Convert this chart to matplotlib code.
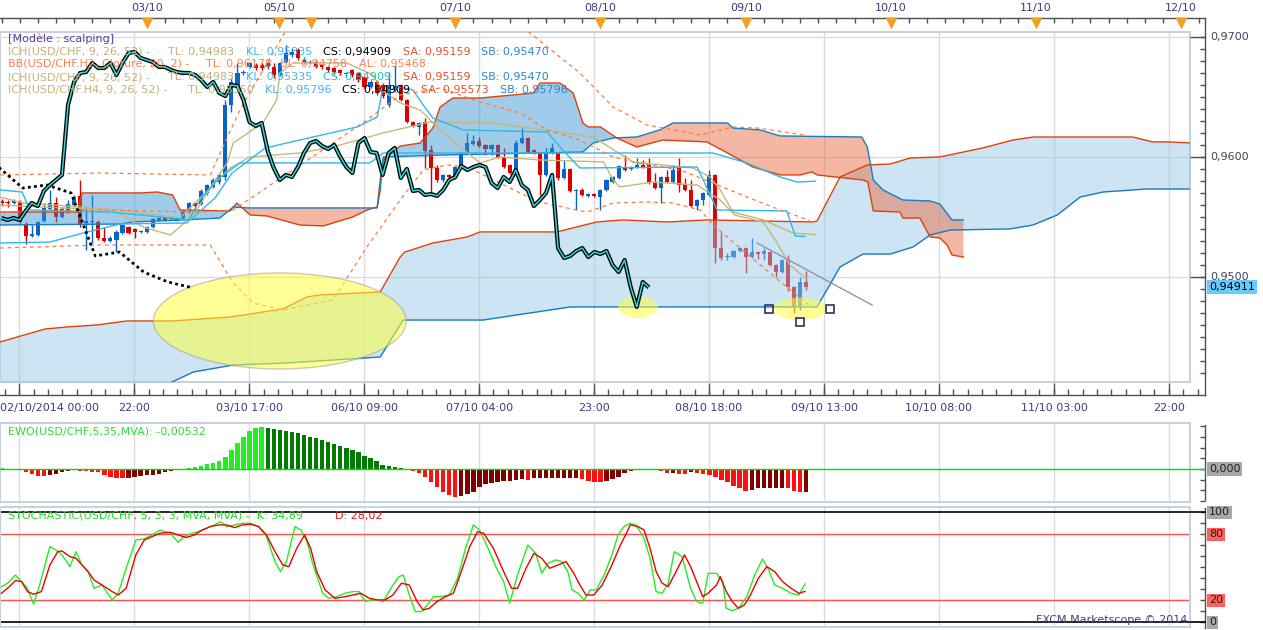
import numpy as np
import matplotlib
matplotlib.use("Agg")
import matplotlib.pyplot as plt
from matplotlib.patches import Ellipse
from matplotlib.transforms import blended_transform_factory as blend

# ---------------- H1 candles USD/CHF ----------------
opens = [0.95631, 0.95623, 0.95614, 0.95623, 0.95431, 0.95339, 0.95348, 0.95464, 0.95564, 0.95614,
         0.95498, 0.95539, 0.95598, 0.95673, 0.95448, 0.95456, 0.95456, 0.95323, 0.95298, 0.95306,
         0.95364, 0.95414, 0.95398, 0.95373, 0.95373, 0.95414, 0.95473, 0.95489, 0.95481, 0.95489,
         0.95489, 0.95539, 0.95614, 0.95606, 0.95698, 0.95748, 0.95789, 0.95831, 0.96431, 0.96581,
         0.96698, 0.96748, 0.96764, 0.96764, 0.96748, 0.96748, 0.96681, 0.96789, 0.96848, 0.96889,
         0.96789, 0.96781, 0.96789, 0.96764, 0.96748, 0.96739, 0.96723, 0.96689, 0.96723, 0.96698,
         0.96664, 0.96581, 0.96623, 0.96598, 0.96431, 0.96556, 0.96598, 0.96473, 0.96289, 0.96248,
         0.96289, 0.96056, 0.95906, 0.95806, 0.95848, 0.95823, 0.95914, 0.96031, 0.96106, 0.96131,
         0.96098, 0.96064, 0.96098, 0.95998, 0.95931, 0.95864, 0.96114, 0.96156, 0.96056, 0.96031,
         0.95848, 0.96031, 0.96031, 0.95823, 0.95898, 0.95714, 0.95723, 0.95673, 0.95689, 0.95664,
         0.95723, 0.95789, 0.95823, 0.95914, 0.95898, 0.95914, 0.95931, 0.95931, 0.95781, 0.95739,
         0.95831, 0.95789, 0.95906, 0.95773, 0.95723, 0.95589, 0.95639, 0.95681, 0.95848, 0.95239,
         0.95164, 0.95164, 0.95214, 0.95239, 0.95164, 0.95206, 0.95189, 0.95206, 0.95098, 0.95039,
         0.95139, 0.94914, 0.94748, 0.94956]
closes = [0.95614, 0.95614, 0.95631, 0.95456, 0.95339, 0.95356, 0.95456, 0.95573, 0.95614, 0.95498,
          0.95564, 0.95606, 0.95664, 0.95431, 0.95464, 0.95464, 0.95323, 0.95298, 0.95323, 0.95373,
          0.95431, 0.95364, 0.95373, 0.95381, 0.95414, 0.95481, 0.95489, 0.95473, 0.95489, 0.95473,
          0.95548, 0.95614, 0.95589, 0.95714, 0.95764, 0.95806, 0.95848, 0.96431, 0.96623, 0.96698,
          0.96706, 0.96781, 0.96739, 0.96739, 0.96781, 0.96681, 0.96781, 0.96864, 0.96873, 0.96823,
          0.96806, 0.96789, 0.96748, 0.96748, 0.96723, 0.96706, 0.96698, 0.96698, 0.96681, 0.96639,
          0.96581, 0.96623, 0.96531, 0.96506, 0.96598, 0.96589, 0.96473, 0.96289, 0.96256, 0.96281,
          0.96048, 0.95906, 0.95806, 0.95848, 0.95831, 0.95914, 0.96031, 0.96114, 0.96131, 0.96089,
          0.96064, 0.96098, 0.95998, 0.95914, 0.95864, 0.96114, 0.96156, 0.96039, 0.96031, 0.95848,
          0.96031, 0.96073, 0.95823, 0.95898, 0.95714, 0.95723, 0.95681, 0.95689, 0.95673, 0.95723,
          0.95806, 0.95831, 0.95923, 0.95889, 0.95914, 0.95931, 0.95914, 0.95781, 0.95739, 0.95831,
          0.95789, 0.95889, 0.95764, 0.95723, 0.95589, 0.95639, 0.95698, 0.95848, 0.95239, 0.95156,
          0.95173, 0.95214, 0.95239, 0.95164, 0.95206, 0.95189, 0.95214, 0.95098, 0.95039, 0.95139,
          0.94914, 0.94748, 0.94956, 0.94911]
highs = [0.95648, 0.95639, 0.95648, 0.95639, 0.95456, 0.95431, 0.95464, 0.95614, 0.95723, 0.95664,
         0.95581, 0.95639, 0.95681, 0.95806, 0.95573, 0.95681, 0.95473, 0.95414, 0.95339, 0.95389,
         0.95439, 0.95423, 0.95406, 0.95389, 0.95423, 0.95489, 0.95498, 0.95498, 0.95498, 0.95498,
         0.95556, 0.95623, 0.95623, 0.95731, 0.95773, 0.95823, 0.95864, 0.96473, 0.96656, 0.96781,
         0.96723, 0.96789, 0.96781, 0.96781, 0.96789, 0.96781, 0.96789, 0.96931, 0.96906, 0.96906,
         0.96831, 0.96806, 0.96806, 0.96773, 0.96756, 0.96748, 0.96731, 0.96706, 0.96731, 0.96706,
         0.96673, 0.96639, 0.96639, 0.96614, 0.96706, 0.96764, 0.96606, 0.96481, 0.96298, 0.96289,
         0.96323, 0.96098, 0.95931, 0.95856, 0.95856, 0.95923, 0.96039, 0.96198, 0.96181, 0.96164,
         0.96106, 0.96106, 0.96106, 0.96073, 0.95939, 0.96139, 0.96239, 0.96164, 0.96064, 0.96039,
         0.96073, 0.96114, 0.96039, 0.95973, 0.95906, 0.95731, 0.95739, 0.95698, 0.95698, 0.95731,
         0.95814, 0.95839, 0.95931, 0.96014, 0.95923, 0.95989, 0.95973, 0.95989, 0.95864, 0.95839,
         0.95889, 0.95931, 0.95989, 0.95823, 0.95806, 0.95648, 0.95706, 0.95889, 0.95856, 0.95373,
         0.95198, 0.95223, 0.95248, 0.95248, 0.95323, 0.95214, 0.95239, 0.95214, 0.95106, 0.95148,
         0.95181, 0.94923, 0.94998, 0.95048]
lows = [0.95589, 0.95581, 0.95606, 0.95448, 0.95273, 0.95331, 0.95339, 0.95456, 0.95556, 0.95456,
        0.95489, 0.95531, 0.95581, 0.95414, 0.95223, 0.95281, 0.95306, 0.95289, 0.95289, 0.95206,
        0.95356, 0.95356, 0.95323, 0.95364, 0.95364, 0.95406, 0.95464, 0.95464, 0.95473, 0.95464,
        0.95481, 0.95531, 0.95556, 0.95598, 0.95681, 0.95739, 0.95773, 0.95806, 0.96373, 0.96573,
        0.96681, 0.96739, 0.96723, 0.96723, 0.96731, 0.96656, 0.96673, 0.96781, 0.96831, 0.96806,
        0.96773, 0.96773, 0.96739, 0.96731, 0.96706, 0.96689, 0.96681, 0.96673, 0.96664, 0.96623,
        0.96573, 0.96573, 0.96514, 0.96489, 0.96414, 0.96539, 0.96464, 0.96281, 0.96248, 0.96181,
        0.95906, 0.95698, 0.95789, 0.95789, 0.95823, 0.95814, 0.95906, 0.96023, 0.96098, 0.96081,
        0.96014, 0.96014, 0.95989, 0.95906, 0.95856, 0.95856, 0.96106, 0.96031, 0.96023, 0.95681,
        0.95839, 0.96023, 0.95806, 0.95814, 0.95706, 0.95556, 0.95673, 0.95664, 0.95664, 0.95556,
        0.95714, 0.95781, 0.95814, 0.95881, 0.95889, 0.95906, 0.95906, 0.95773, 0.95731, 0.95614,
        0.95781, 0.95781, 0.95706, 0.95714, 0.95581, 0.95556, 0.95598, 0.95673, 0.95114, 0.95139,
        0.95139, 0.95156, 0.95206, 0.95031, 0.95156, 0.95148, 0.95139, 0.95089, 0.94998, 0.95031,
        0.94881, 0.94698, 0.94723, 0.94889]

# ---------------- Ichimoku H1 cloud (senkou A / B) ----------------
h1_sa_bar = [-0.25, 12.6, 13.3, 22.9, 25.7, 28.3, 29.5, 37.8, 38.9, 41.1, 43.9, 49.3, 53.2, 58.1, 60.4,
             62.1, 62.6, 63.1, 64.7, 65.9, 69.2, 71.3, 72.5, 74.6, 79.1, 84.5, 87.9, 89.0, 92.3, 94.5,
             96.1, 97.0, 99.0, 101.7, 105.0, 109.3, 116.6, 120.0, 124.2, 128.7, 132.0, 134.0, 134.8,
             142.4, 143.2, 144.1, 148.5, 149.0, 151.8, 153.5, 155.1, 156.3, 157.1, 159.0]
h1_sa = [0.95539, 0.95539, 0.95698, 0.95698, 0.95706, 0.95681, 0.95556, 0.95548, 0.95614, 0.95514,
         0.95506, 0.95431, 0.95423, 0.95498, 0.95556, 0.95581, 0.95806, 0.95973, 0.96039, 0.96089,
         0.96114, 0.96239, 0.96414, 0.96489, 0.96489, 0.96514, 0.96531, 0.96614, 0.96614, 0.96531,
         0.96281, 0.96248, 0.96248, 0.96156, 0.96081, 0.96139, 0.96123, 0.96031, 0.95914, 0.95848,
         0.95848, 0.95873, 0.95848, 0.95806, 0.95789, 0.95548, 0.95539, 0.95489, 0.95489, 0.95331,
         0.95323, 0.95264, 0.95181, 0.95164]
h1_sb_bar = [-0.25, 19.6, 21.7, 30.0, 36.1, 38.3, 40.6, 62.1, 62.6, 63.1, 73.0, 96.1, 97.8, 101.1,
             105.0, 108.8, 111.0, 120.0, 120.9, 125.4, 128.7, 142.2, 143.1, 143.6, 144.1, 145.7, 149.0,
             153.5, 155.1, 157.1, 159.0]
h1_sb = [0.95431, 0.95439, 0.95456, 0.95473, 0.95489, 0.95581, 0.95573, 0.95573, 0.95723, 0.95998,
         0.96014, 0.96039, 0.96114, 0.96156, 0.96164, 0.96223, 0.96281, 0.96281, 0.96239, 0.96223,
         0.96173, 0.96164, 0.96081, 0.95948, 0.95806, 0.95723, 0.95639, 0.95631, 0.95606, 0.95473,
         0.95473]

# ---------------- Ichimoku H4 cloud ----------------
h4_up_bar = [-0.25, 7.2, 10.8, 15.8, 20.7, 28.3, 37.8, 46.5, 50.5, 52.6, 62.6, 65.9, 66.7, 71.3, 77.0,
             79.1, 91.8, 98.4, 102.7, 110.0, 116.6, 134.1, 134.8, 138.6, 143.1, 146.9, 150.2, 155.1,
             162.2, 167.2, 170.5, 187.0, 190.3, 193.1, 196.5]
h4_up = [0.94456, 0.94564, 0.94581, 0.94598, 0.94631, 0.94631, 0.94664, 0.94731, 0.94831, 0.94848,
         0.94873, 0.95164, 0.95206, 0.95281, 0.95331, 0.95373, 0.95373, 0.95456, 0.95473, 0.95456,
         0.95473, 0.95456, 0.95464, 0.95831, 0.95931, 0.95939, 0.95989, 0.95998, 0.96073, 0.96139,
         0.96164, 0.96164, 0.96123, 0.96123, 0.96114]
h4_lo_bar = [-0.25, 24.5, 28.2, 31.7, 38.3, 47.2, 62.6, 66.4, 79.6, 94.0, 134.8, 138.6, 142.4, 146.9,
             150.7, 153.5, 156.8, 166.7, 170.5, 174.5, 178.3, 182.1, 189.3, 196.5]
h4_lo = [0.93973, 0.93973, 0.94123, 0.94206, 0.94264, 0.94281, 0.94331, 0.94639, 0.94639, 0.94748,
         0.94748, 0.95081, 0.95189, 0.95189, 0.95248, 0.95348, 0.95389, 0.95398, 0.95431, 0.95514,
         0.95664, 0.95706, 0.95731, 0.95731]

# ---------------- tenkan / kijun lines ----------------
h1_tl_bar = [-0.25, 3.6, 13.5, 18.4, 23.4, 27.9, 29.5, 32.3, 35.0, 37.3, 38.3, 43.2, 45.5, 46.0, 48.2,
             57.1, 61.4, 62.9, 65.9, 69.2, 72.5, 75.8, 79.1, 82.4, 89.0, 99.5, 101.1, 102.2, 107.7,
             115.0, 118.8, 121.2, 125.9, 127.9, 130.3, 133.0]
h1_tl = [0.95664, 0.95614, 0.95581, 0.95556, 0.95414, 0.95348, 0.95414, 0.95556, 0.95781, 0.95948,
         0.96114, 0.96281, 0.96473, 0.96698, 0.96781, 0.96781, 0.96681, 0.96556, 0.96448, 0.96389,
         0.96223, 0.96081, 0.95948, 0.95998, 0.95973, 0.95956, 0.95806, 0.95748, 0.95789, 0.95764,
         0.95639, 0.95514, 0.95456, 0.95306, 0.95098, 0.94983]
h4_tl_bar = [-0.25, 9.7, 19.6, 29.5, 37.8, 41.1, 49.3, 54.8, 63.1, 70.8, 81.2, 89.5, 97.8, 104.4,
             114.3, 117.1, 118.8, 120.9, 125.9, 130.8, 134.5]
h4_tl = [0.95598, 0.95573, 0.95556, 0.95489, 0.95906, 0.95998, 0.96031, 0.96081, 0.96198, 0.96289,
         0.96281, 0.96223, 0.96164, 0.95956, 0.95906, 0.95831, 0.95723, 0.95539, 0.95473, 0.95364,
         0.95350]
h1_kl_bar = [-0.25, 3.4, 4.7, 17.9, 31.2, 35.3, 38.1, 43.6, 49.3, 58.8, 62.1, 62.9, 65.9, 68.0, 69.7,
             71.3, 76.3, 90.2, 92.3, 95.6, 115.0, 118.3, 129.8, 131.2, 132.8]
h1_kl = [0.95723, 0.95706, 0.95556, 0.95539, 0.95473, 0.95656, 0.95864, 0.96073, 0.96139, 0.96248,
         0.96331, 0.96539, 0.96581, 0.96556, 0.96431, 0.96323, 0.96223, 0.96206, 0.96081, 0.95906,
         0.95914, 0.95556, 0.95548, 0.95339, 0.95335]
h4_kl_bar = [-0.25, 8.0, 13.5, 19.6, 30.7, 32.8, 35.6, 39.4, 60.9, 63.1, 117.6, 123.2, 128.7, 131.5,
             134.5]
h4_kl = [0.95281, 0.95289, 0.95364, 0.95439, 0.95448, 0.95639, 0.95806, 0.95948, 0.95948, 0.96031,
         0.96031, 0.95948, 0.95831, 0.95789, 0.95796]

# ---------------- Bollinger H2 (20, 2) ----------------
bb_up_bar = [-0.25, 16.3, 34.5, 39.4, 48.5, 83.2, 85.7, 95.6, 101.1, 106.7, 115.5, 120.9, 124.9, 133.1]
bb_up = [0.95848, 0.95864, 0.95848, 0.96389, 0.97181, 0.97181, 0.97098, 0.96698, 0.96414, 0.96264,
         0.96181, 0.96248, 0.96239, 0.96178]
bb_mid_bar = [-0.25, 16.3, 32.8, 38.3, 54.8, 60.4, 65.9, 72.5, 79.1, 85.7, 90.2, 95.6, 101.1, 104.4,
              112.2, 117.6, 123.2, 128.7, 133.6]
bb_mid = [0.95539, 0.95556, 0.95539, 0.95556, 0.96114, 0.96306, 0.96514, 0.96573, 0.96456, 0.96364,
          0.96223, 0.96139, 0.95998, 0.95956, 0.95889, 0.95781, 0.95664, 0.95556, 0.95468]
bb_lo_bar = [-0.25, 16.3, 34.5, 38.3, 41.6, 46.5, 54.8, 60.4, 65.9, 69.7, 73.6, 77.0, 85.7, 89.0,
             93.5, 96.8, 101.1, 106.7, 111.0, 115.5, 117.6, 125.4, 133.6]
bb_lo = [0.95239, 0.95264, 0.95264, 0.94948, 0.94781, 0.94723, 0.94806, 0.95248, 0.95639, 0.95889,
         0.95931, 0.95914, 0.95698, 0.95623, 0.95573, 0.95539, 0.95614, 0.95623, 0.95614, 0.95556,
         0.95431, 0.95098, 0.94758]

# ---------------- EWO (5, 35) ----------------
ewo = [0.00031, 0.0, 0.0, -0.00008, -0.00063, -0.00125, -0.00164, -0.00164, -0.00141, -0.00109,
       -0.00063, -0.00039, -0.00023, -0.00039, -0.00047, -0.00063, -0.00078, -0.00141, -0.00180, -0.00211,
       -0.00211, -0.00203, -0.00188, -0.00172, -0.00141, -0.00141, -0.00117, -0.00078, -0.00047, -0.00023,
       -0.00008, 0.00016, 0.00039, 0.00063, 0.00109, 0.00133, 0.00196, 0.00289, 0.00446, 0.00618,
       0.00759, 0.00891, 0.00954, 0.00978, 0.00954, 0.00938, 0.00915, 0.00891, 0.00860, 0.00837,
       0.00798, 0.00759, 0.00719, 0.00680, 0.00626, 0.00587, 0.00547, 0.00500, 0.00446, 0.00391,
       0.00313, 0.00266, 0.00188, 0.00094, 0.00070, 0.00055, 0.00031, 0.0, -0.00047, -0.00102,
       -0.00180, -0.00297, -0.00414, -0.00532, -0.00610, -0.00649, -0.00633, -0.00594, -0.00532, -0.00414,
       -0.00360, -0.00321, -0.00297, -0.00282, -0.00282, -0.00258, -0.00242, -0.00258, -0.00203, -0.00203,
       -0.00203, -0.00203, -0.00203, -0.00203, -0.00203, -0.00203, -0.00242, -0.00282, -0.00313, -0.00313,
       -0.00282, -0.00235, -0.00180, -0.00102, -0.00047, -0.00008, 0.0, 0.0, -0.00023, -0.00047,
       -0.00094, -0.00086, -0.00109, -0.00109, -0.00078, -0.00102, -0.00125, -0.00141, -0.00180, -0.00258,
       -0.00313, -0.00391, -0.00454, -0.00508, -0.00493, -0.00454, -0.00438, -0.00438, -0.00438, -0.00438,
       -0.00454, -0.00516, -0.00535, -0.00532]

# ---------------- Stochastic (5, 3, 3) ----------------
k_bar = [0, 1.0, 2.3, 3.3, 4.3, 5.3, 6.3, 8.0, 9.0, 10.0, 11.3, 12.3, 13.3, 14.3, 15.3, 16.6, 18.3, 19.3,
         20.6, 22.2, 23.6, 24.9, 26.2, 27.9, 29.2, 30.2, 31.5, 32.5, 33.9, 35.2, 36.2, 37.2, 38.5, 39.8,
         41.2, 42.5, 43.8, 45.2, 46.1, 47.1, 48.5, 49.5, 50.5, 51.5, 53.1, 54.1, 55.4, 56.8, 58.1, 59.1,
         60.1, 61.1, 62.1, 63.1, 64.7, 65.7, 66.4, 67.4, 68.4, 69.4, 70.4, 71.4, 72.7, 74.0, 75.4, 76.7,
         78.0, 79.0, 80.3, 81.7, 83.0, 84.0, 85.3, 87.0, 88.3, 89.3, 90.3, 91.6, 92.6, 93.6, 94.3, 95.3,
         96.3, 97.3, 98.3, 99.6, 100.9, 101.9, 102.9, 103.9, 104.9, 106.2, 107.2, 108.2, 109.2, 110.2,
         111.2, 112.5, 113.9, 114.9, 115.9, 116.8, 118.2, 119.2, 119.8, 120.8, 121.8, 123.2, 124.5, 125.8,
         126.8, 127.8, 129.1, 130.5, 131.8, 132.8]
k_val = [32.4, 35.5, 43.0, 37.0, 30.9, 16.4, 33.9, 68.8, 65.8, 61.2, 50.6, 64.2, 52.1, 46.1, 30.9, 33.9,
         20.3, 26.4, 49.1, 74.8, 75.8, 79.4, 83.9, 80.9, 72.7, 77.9, 80.9, 82.4, 85.5, 88.5, 91.5, 87.0,
         88.5, 90.0, 90.0, 87.0, 77.9, 55.2, 46.1, 55.2, 87.0, 83.9, 73.3, 52.1, 26.4, 21.8, 23.3, 26.4,
         27.9, 27.9, 18.8, 20.3, 20.3, 18.8, 33.9, 41.5, 43.0, 24.8, 9.7, 9.7, 15.8, 23.3, 23.3, 24.8,
         40.0, 67.3, 88.5, 83.9, 68.8, 50.6, 37.0, 17.3, 43.0, 70.3, 62.7, 44.5, 53.6, 56.7, 55.2, 46.1,
         29.4, 26.4, 20.3, 29.4, 29.4, 43.0, 61.2, 79.4, 87.0, 90.0, 88.5, 76.4, 58.2, 27.9, 26.4, 35.5,
         64.2, 59.7, 30.9, 18.8, 17.3, 44.5, 44.5, 37.0, 12.7, 10.6, 12.7, 23.3, 43.0, 57.6, 47.6, 33.9,
         30.9, 26.4, 24.8, 34.89]
d_bar = [0, 1.3, 2.3, 3.3, 4.3, 5.3, 6.6, 8.0, 9.3, 10.0, 11.3, 12.3, 13.3, 14.3, 15.3, 16.6, 18.3, 19.3,
         20.6, 22.2, 23.6, 24.9, 26.2, 27.9, 29.2, 30.5, 31.9, 33.2, 34.5, 35.9, 37.2, 38.5, 39.8, 41.2,
         42.5, 43.8, 45.2, 46.5, 47.5, 48.8, 50.1, 51.1, 52.1, 53.5, 55.1, 56.8, 58.1, 59.4, 60.8, 62.1,
         63.4, 64.7, 66.1, 67.4, 68.7, 69.7, 70.7, 72.0, 73.4, 74.7, 76.0, 77.4, 78.7, 79.7, 81.3, 83.0,
         84.3, 85.3, 86.7, 88.0, 89.3, 90.6, 92.0, 93.3, 94.6, 95.6, 96.6, 97.9, 99.3, 100.9, 102.3, 103.3,
         103.9, 105.2, 106.2, 107.2, 108.2, 109.2, 110.2, 111.5, 112.9, 113.9, 114.9, 115.9, 116.8, 118.2,
         118.8, 119.8, 120.8, 121.8, 122.8, 123.8, 125.1, 126.5, 127.8, 129.1, 130.5, 131.8, 132.8]
d_val = [26.4, 32.4, 37.9, 37.0, 27.9, 25.5, 27.9, 52.1, 64.2, 64.8, 59.7, 58.2, 52.1, 46.1, 38.5, 33.9,
         27.9, 24.8, 30.9, 61.2, 74.8, 77.9, 80.9, 81.8, 79.4, 77.0, 79.4, 83.9, 87.0, 88.5, 88.5, 86.1,
         88.5, 89.1, 87.0, 79.4, 64.2, 52.1, 50.6, 67.3, 79.4, 67.3, 46.1, 29.4, 21.8, 23.3, 24.8, 26.4,
         21.8, 20.3, 20.3, 24.8, 35.5, 33.9, 18.8, 11.2, 12.7, 18.8, 23.3, 26.4, 46.1, 68.8, 82.4, 80.9,
         67.3, 46.1, 30.9, 30.9, 49.1, 62.7, 58.2, 49.1, 52.1, 55.2, 44.5, 33.9, 24.8, 24.8, 33.9, 52.1,
         70.3, 80.9, 88.5, 87.0, 83.9, 67.3, 46.1, 35.5, 32.4, 46.1, 61.2, 50.6, 37.0, 23.3, 26.4, 33.9,
         41.5, 27.9, 18.8, 12.7, 15.8, 24.8, 40.0, 50.6, 46.1, 37.0, 30.9, 26.4, 28.02]

# ---------------- axis labels ----------------
time_bars = [2.94, 21.94, 40.94, 59.95, 78.95, 97.95, 116.95, 135.96, 154.96, 173.96, 192.96]
time_labels = ['02/10/2014 00:00', '22:00', '03/10 17:00', '06/10 09:00', '07/10 04:00', '23:00',
               '08/10 18:00', '09/10 13:00', '10/10 08:00', '11/10 03:00', '22:00']
day_bars = [24.05, 45.87, 74.96, 98.93, 123.06, 147.03, 171.0, 194.96]
day_labels = ['03/10', '05/10', '07/10', '08/10', '09/10', '10/10', '11/10', '12/10']
marker_bars = day_bars + [51.16]
price_ticks = [0.95, 0.96, 0.97]
last_price = 0.94911

W, H = 1263, 630
BLUE, RED = '#0a64c8', '#dc0000'
EDGE = '#c8d2dc'
GRID = '#dcdcdc'
AXC = '#505050'
X0, X1 = -0.248, 196.45


def box(x0, y0, x1, y1):
    return [x0 / W, 1 - y1 / H, (x1 - x0) / W, (y1 - y0) / H]


def frame(a):
    a.set_xticks([])
    a.set_yticks([])
    for s in a.spines.values():
        s.set_color(EDGE)
        s.set_linewidth(1.5)
    a.set_xlim(X0, X1)


fig = plt.figure(figsize=(W / 100, H / 100), dpi=100)
plt.rcParams['font.family'] = ['DejaVu Sans']

# ================= main price panel =================
ax = fig.add_axes(box(0, 32, 1190, 382))
frame(ax)
ax.set_ylim(0.941225, 0.970392)
for b in time_bars:
    ax.axvline(b, color=GRID, lw=1, zorder=0.5)
for p in price_ticks:
    ax.axhline(p, color=GRID, lw=1, zorder=0.5)

o, c = np.array(opens), np.array(closes)
idx = np.arange(len(o))
cols = np.where(c >= o, BLUE, RED)
ax.vlines(idx, lows, highs, colors=cols, lw=1, zorder=2)
ax.bar(idx, np.maximum(np.abs(c - o), 0.00007), bottom=np.minimum(o, c), width=0.68,
       color=cols, lw=0, zorder=2.1)

# H4 cloud
xg4 = np.linspace(-0.25, 196.5, 2000)
ax.fill_between(xg4, np.interp(xg4, h4_up_bar, h4_up), np.interp(xg4, h4_lo_bar, h4_lo),
                color='#96c8e6', alpha=0.48, lw=0, zorder=2.9)
ax.plot(h4_up_bar, h4_up, color='#e0400c', lw=1, zorder=3.5)
ax.plot(h4_lo_bar, h4_lo, color='#1a7cc0', lw=1, zorder=3.5)

# H1 cloud
xg = np.linspace(-0.25, 159.0, 1600)
sa = np.interp(xg, h1_sa_bar, h1_sa)
sb = np.interp(xg, h1_sb_bar, h1_sb)
ax.fill_between(xg, sa, sb, where=sa >= sb, interpolate=True, color='#2f8fd0', alpha=0.45,
                lw=0, zorder=3)
ax.fill_between(xg, sa, sb, where=sa < sb, interpolate=True, color='#e8704a', alpha=0.5,
                lw=0, zorder=3)
ax.plot(h1_sa_bar, h1_sa, color='#e0400c', lw=1, zorder=3.5)
ax.plot(h1_sb_bar, h1_sb, color='#1a7cc0', lw=1, zorder=3.5)

# tenkan / kijun
ax.plot(h1_tl_bar, h1_tl, color='#c4b878', lw=1, zorder=3.6)
ax.plot(h4_tl_bar, h4_tl, color='#c4b878', lw=1, zorder=3.6)
ax.plot(h1_kl_bar, h1_kl, color='#2cb8f0', lw=1, zorder=3.6)
ax.plot(h4_kl_bar, h4_kl, color='#2cb8f0', lw=1, zorder=3.6)

# bollinger (dashed)
for bx, by in [(bb_up_bar, bb_up), (bb_mid_bar, bb_mid), (bb_lo_bar, bb_lo)]:
    ax.plot(bx, by, color='#ff7a3a', lw=0.9, dashes=(3, 3), zorder=3.6)

# annotation ellipses
ax.add_patch(Ellipse((46.0, 0.94631), 41.8, 0.0080, fc='#ffff40', ec='#a0a0a0', lw=1,
                     alpha=0.55, zorder=4.5))
ax.add_patch(Ellipse((105.2, 0.94748), 6.6, 0.0018, fc='#ffff40', ec='none', alpha=0.55, zorder=4.5))
ax.add_patch(Ellipse((132.0, 0.94731), 8.9, 0.0019, fc='#ffff40', ec='none', alpha=0.55, zorder=4.5))

# chikou H1: close shifted back 26 bars
ax.plot(idx[:-26], c[26:], color='black', lw=3, zorder=5, solid_capstyle='butt')
ax.plot(idx[:-26], c[26:], color='#30d8d8', lw=1.1, zorder=5.1)
# chikou H4: H4 closes (every 4th H1 close + live bar) shifted back 26 H4 bars
h4_j = list(range(104, 133, 4)) + [133]
h4_x = [j - 104.5 for j in h4_j[:-1]] + [31.3]
ax.plot(h4_x, c[h4_j], color='black', lw=2, ls=(0, (1, 1.2)), zorder=5)

# trend line and handles
ax.plot([124.9, 143.9], [0.95281, 0.94764], color='#9090b8', lw=1, zorder=5)
ax.plot([126.9, 137.0, 132.0], [0.94731, 0.94731, 0.94623], 's', ms=6, mfc='none',
        mec='#303068', mew=1.2, zorder=5.5)

# ================= EWO panel =================
axe = fig.add_axes(box(0, 423, 1190, 502))
frame(axe)
axe.set_ylim(-0.00774, 0.01079)
for b in time_bars:
    axe.axvline(b, color=GRID, lw=1, zorder=0.5)
ecol = []
for i, v in enumerate(ewo):
    prev = ewo[i - 1] if i else v
    if v == prev and ecol:
        ecol.append(ecol[-1])
    elif v >= 0:
        ecol.append('#22ee22' if v >= prev else '#007a00')
    else:
        ecol.append('#ff1010' if v <= prev else '#800000')
axe.bar(idx, ewo, width=0.72, color=ecol, lw=0, zorder=2)
axe.axhline(0, color='#00dd00', lw=1, zorder=3)

# ================= stochastic panel =================
axs = fig.add_axes(box(0, 507, 1190, 627))
frame(axs)
axs.set_ylim(-4.3, 104.8)
for b in time_bars:
    axs.axvline(b, color=GRID, lw=1, zorder=0.5)
for lv, lc in [(0, 'black'), (100, 'black'), (20, '#ff5050'), (80, '#ff5050')]:
    axs.axhline(lv, color=lc, lw=1.2 if lc == 'black' else 1, zorder=1)
axs.plot(k_bar, k_val, color='#22ee22', lw=1, zorder=3)
axs.plot(d_bar, d_val, color='#ee0000', lw=1, zorder=3)

# ================= overlay in pixel units (axes, labels, legend) =================
ov = fig.add_axes([0, 0, 1, 1], zorder=10)
ov.set_xlim(0, W)
ov.set_ylim(H, 0)
ov.set_axis_off()
t_xb = blend(ax.transData, ov.transData)     # x = bar, y = pixel
t_pm = blend(ov.transData, ax.transData)     # x = pixel, y = price
t_pe = blend(ov.transData, axe.transData)
t_ps = blend(ov.transData, axs.transData)
fs = 8

# top date axis
ov.plot([0, 1205], [18, 18], color=AXC, lw=1)
ov.vlines(np.arange(0, 199, 3), 18, 23, transform=t_xb, color=AXC, lw=1)
ov.plot(marker_bars, [23] * len(marker_bars), 'v', ms=8, color='#f5a020', mec='none', transform=t_xb)
for b, lab in zip(day_bars, day_labels):
    ov.text(b, 8, lab, transform=t_xb, ha='center', va='center', fontsize=fs, color='#3c3c7c')

# bottom time axis
ov.plot([0, 1205], [395, 395], color=AXC, lw=1)
ov.vlines(np.arange(time_bars[0] - 19 / 8, 199, 19 / 8), 389, 395, transform=t_xb, color=AXC, lw=1)
ov.vlines(time_bars, 383, 395, transform=t_xb, color=AXC, lw=1)
for j, (b, lab) in enumerate(zip(time_bars, time_labels)):
    if j == 0:
        ov.text(0, 408, lab, ha='left', va='center', fontsize=fs, color='#3c3c7c')
    else:
        ov.text(b, 408, lab, transform=t_xb, ha='center', va='center', fontsize=fs, color='#3c3c7c')

# right price axis
ov.plot([1205, 1205], [18, 395], color=AXC, lw=1)
ov.hlines(np.arange(0.942, 0.9705, 0.001), 1200, 1205, transform=t_pm, color=AXC, lw=1)
ov.hlines(price_ticks, 1190, 1205, transform=t_pm, color=AXC, lw=1)
for p in price_ticks:
    ov.text(1210, p, f'{p:.4f}'.replace('.', ','), transform=t_pm, ha='left', va='center',
            fontsize=fs, color='#404058')
ov.text(1209, last_price, f'{last_price:.5f}'.replace('.', ','), transform=t_pm, ha='left',
        va='center', fontsize=fs, color='black',
        bbox=dict(boxstyle='square,pad=0.18', fc='#66ccff', ec='none'))

# right EWO axis
ov.plot([1205, 1205], [425, 500], color=AXC, lw=1)
ov.hlines(np.arange(-0.0075, 0.0101, 0.0025), 1200, 1205, transform=t_pe, color=AXC, lw=1)
ov.plot([1190, 1205], [0, 0], color='#00dd00', lw=1, transform=t_pe)
ov.text(1209, 0, '0,000', transform=t_pe, ha='left', va='center', fontsize=fs, color='#202020',
        bbox=dict(boxstyle='square,pad=0.15', fc='#a8a8a8', ec='none'))

# right stochastic axis
ov.plot([1205, 1205], [508, 628], color=AXC, lw=1)
ov.hlines(np.arange(0, 101, 10), 1200, 1205, transform=t_ps, color=AXC, lw=1)
ov.plot([1190, 1205], [100, 100], color='black', lw=1.2, transform=t_ps)
ov.plot([1190, 1205], [0, 0], color='black', lw=1.2, transform=t_ps)
for lv, bg in [(100, '#a8a8a8'), (80, '#ff6060'), (20, '#ff6060'), (0, '#a8a8a8')]:
    ov.text(1209, lv, str(lv), transform=t_ps, ha='left', va='center', fontsize=fs, color='#202020',
            bbox=dict(boxstyle='square,pad=0.15', fc=bg, ec='none'))
ov.text(1187, 620, 'FXCM Marketscope © 2014', ha='right', va='center', fontsize=fs, color='#40407a')

# indicator legends
KH, LB, OR, BL = '#c2b27a', '#44b4f0', '#e8502a', '#2a86d8'
legend = [
    (39, [(8, '[Modèle : scalping]', '#5a3e96')]),
    (52, [(8, 'ICH(USD/CHF, 9, 26, 52) -', KH), (168, 'TL: 0,94983', KH), (246, 'KL: 0,95335', LB),
          (323, 'CS: 0,94909', 'black'), (403, 'SA: 0,95159', OR), (481, 'SB: 0,95470', BL)]),
    (64, [(8, 'BB(USD/CHF.H2, Cloture, 20, 2) -', '#ff8050'), (206, 'TL: 0,96178', '#ff8050'),
          (280, 'BL: 0,94758', '#ff8050'), (359, 'AL: 0,95468', '#ff8050')]),
    (77, [(8, 'ICH(USD/CHF, 9, 26, 52) -', KH), (168, 'TL: 0,94983', KH), (246, 'KL: 0,95335', LB),
          (323, 'CS: 0,94909', '#22c4b4'), (403, 'SA: 0,95159', OR), (481, 'SB: 0,95470', BL)]),
    (90, [(8, 'ICH(USD/CHF.H4, 9, 26, 52) -', KH), (188, 'TL: 0,95350', KH), (265, 'KL: 0,95796', LB),
          (342, 'CS: 0,94909', 'black'), (421, 'SA: 0,95573', OR), (500, 'SB: 0,95796', BL)]),
    (431, [(8, 'EWO(USD/CHF,5,35,MVA): -0,00532', '#33dd33')]),
    (516, [(8, 'STOCHASTIC(USD/CHF, 5, 3, 3, MVA, MVA) -  K: 34,89', '#22dd22'),
           (335, 'D: 28,02', '#ee1111')]),
]
for y, parts in legend:
    for x, s, col in parts:
        ov.text(x, y, s, ha='left', va='center', fontsize=fs, color=col)

fig.savefig('out.png', dpi=100)
